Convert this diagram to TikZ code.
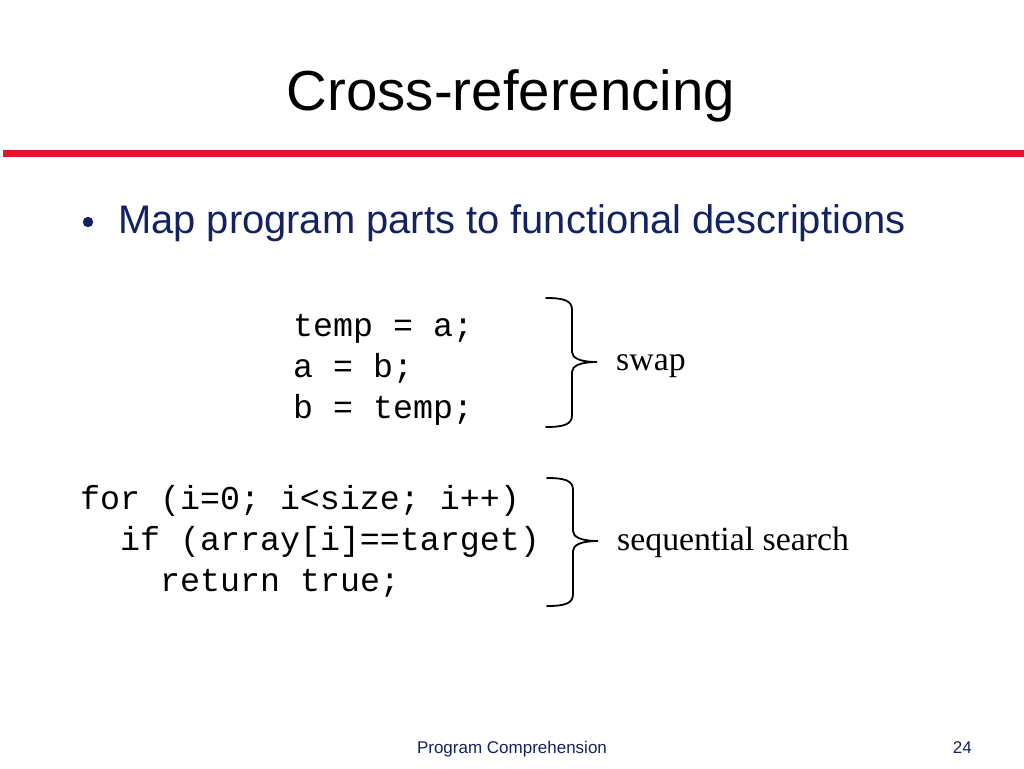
\documentclass[tikz,border=0pt]{standalone}
\usepackage{fontspec}
\setmainfont{Liberation Sans}
\newfontfamily\codefont{Liberation Mono}
\newfontfamily\notefont{Liberation Serif}
\definecolor{slidered}{RGB}{228,20,48}
\definecolor{slidenavy}{RGB}{18,34,98}
\tikzset{
  code/.style={anchor=base west, inner sep=0pt, font=\codefont\fontsize{33.3}{33.3}\selectfont},
  note/.style={anchor=base west, inner sep=0pt, font=\notefont\fontsize{33.8}{33.8}\selectfont},
  brace/.style={line width=1.8pt, line cap=round}
}
\begin{document}
\begin{tikzpicture}[x=1pt, y=-1pt]
	\useasboundingbox (0,0) rectangle (1024,768);
	% title and rule
	\node[anchor=base, inner sep=0pt, font=\fontsize{56.4}{56.4}\selectfont] (title) at (511,110) {Cross-referencing};
	\fill[slidered] (3,150) rectangle (1024,156.5);
	% bullet
	\fill[slidenavy] (88,222) circle (5.2pt);
	\node[anchor=base west, inner sep=0pt, text=slidenavy, font=\fontsize{39.9}{39.9}\selectfont] (point) at (118,233) {Map program parts to functional descriptions};
	% swap
	\node[code] (swapa) at (293,336) {temp = a;};
	\node[code] (swapb) at (293,377) {a = b;};
	\node[code] (swapc) at (293,418) {b = temp;};
	\draw[brace] (546,298) .. controls (565,298) and (572,301) .. (572,310) -- (572,352)
	  .. controls (572,358) and (580,362) .. (597,362) .. controls (580,362) and (572,366) .. (572,372)
	  -- (572,415) .. controls (572,424) and (565,427) .. (546,427);
	\node[note] (swap) at (616,370) {swap};
	% search
	\node[code] (loopa) at (80,509) {for (i=0; i<size; i++)};
	\node[code] (loopb) at (120,550) {if (array[i]==target)};
	\node[code] (loopc) at (160,591) {return true;};
	\draw[brace] (547,478) .. controls (566,478) and (573,481) .. (573,490) -- (573,531)
	  .. controls (573,537) and (581,541) .. (598,541) .. controls (581,541) and (573,545) .. (573,551)
	  -- (573,594) .. controls (573,603) and (566,606) .. (547,606);
	\node[note] (search) at (617,550) {sequential search};
	% footer
	\node[anchor=base, inner sep=0pt, text=slidenavy, font=\fontsize{17}{17}\selectfont] (foot) at (512,753) {Program Comprehension};
	\node[anchor=base east, inner sep=0pt, text=slidenavy, font=\fontsize{17}{17}\selectfont] (page) at (972,753) {24};
\end{tikzpicture}
\end{document}
